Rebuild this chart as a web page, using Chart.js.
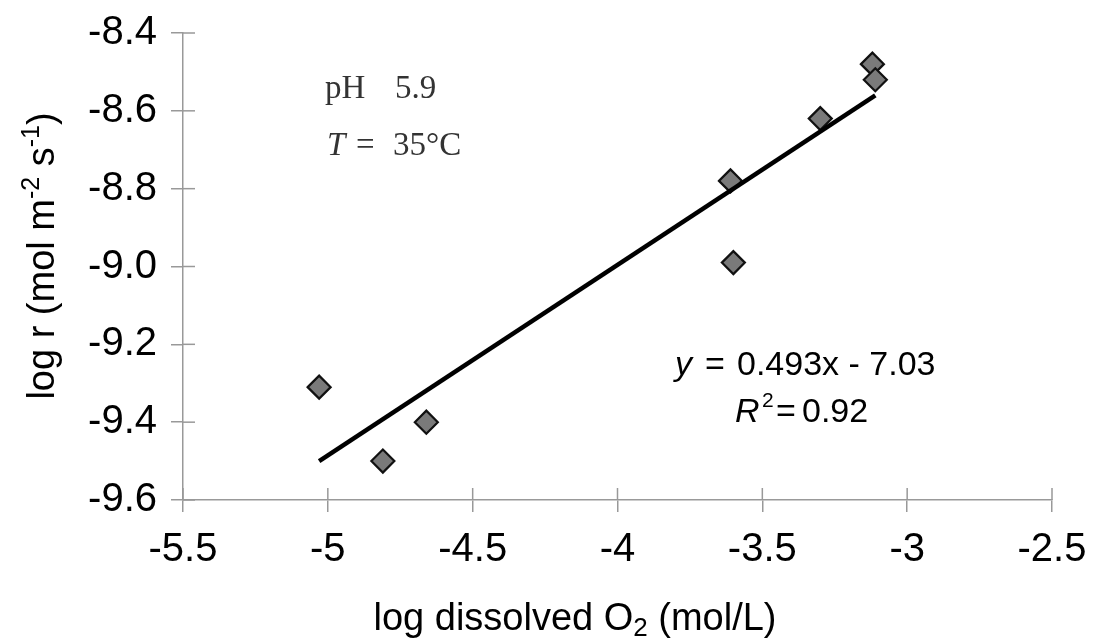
<!DOCTYPE html>
<html>
<head>
<meta charset="utf-8">
<script src="https://cdn.jsdelivr.net/npm/chart.js@4"></script>
<style>
  body { margin: 0; background: #fff; }
</style>
</head>
<body>
<canvas id="grafico" width="1094" height="642"></canvas>
<script>
// dados
const logO2 = [-5.03, -4.81, -4.66, -3.61, -3.60, -3.30, -3.12, -3.11];
const logR = [-9.31, -9.50, -9.40, -8.78, -8.99, -8.62, -8.48, -8.52];

// reta de ajuste (extremos)
const ajusteX = [-5.03, -3.11];
const ajusteY = [-9.50, -8.56];

const xTicks = [-5.5, -5, -4.5, -4, -3.5, -3, -2.5];
const yTicks = [-9.6, -9.4, -9.2, -9.0, -8.8, -8.6, -8.4];

const pontos = logO2.map((x, i) => ({ x: x, y: logR[i] }));
const reta = ajusteX.map((x, i) => ({ x: x, y: ajusteY[i] }));

const sans = '"Liberation Sans", Arial, sans-serif';
const serif = '"Liberation Serif", "Times New Roman", serif';

// marcas de escala que cruzam o eixo + textos
const extras = {
    id: 'extras',
    afterDraw(chart) {
        const ctx = chart.ctx;
        const xs = chart.scales.x;
        const ys = chart.scales.y;
        const area = chart.chartArea;

        ctx.save();
        ctx.strokeStyle = '#999';
        ctx.lineWidth = 1.5;
        xTicks.forEach(v => {
            const px = xs.getPixelForValue(v);
            ctx.beginPath();
            ctx.moveTo(px, area.bottom);
            ctx.lineTo(px, area.bottom - 12);
            ctx.stroke();
        });
        yTicks.forEach(v => {
            const py = ys.getPixelForValue(v);
            ctx.beginPath();
            ctx.moveTo(area.left, py);
            ctx.lineTo(area.left + 12, py);
            ctx.stroke();
        });

        ctx.fillStyle = '#000';
        ctx.textBaseline = 'alphabetic';
        ctx.textAlign = 'left';

        // titulo eixo x
        ctx.font = '38px ' + sans;
        let p1 = 'log dissolved O';
        let w1 = ctx.measureText(p1).width;
        ctx.font = '26px ' + sans;
        let w2 = ctx.measureText('2').width;
        ctx.font = '38px ' + sans;
        let p3 = ' (mol/L)';
        let w3 = ctx.measureText(p3).width;
        let x0 = 575 - (w1 + w2 + w3) / 2;
        ctx.fillText(p1, x0, 630);
        ctx.font = '26px ' + sans;
        ctx.fillText('2', x0 + w1, 636);
        ctx.font = '38px ' + sans;
        ctx.fillText(p3, x0 + w1 + w2, 630);

        // titulo eixo y (girado)
        ctx.save();
        ctx.translate(54, 256);
        ctx.rotate(-Math.PI / 2);
        const partes = [
            ['log r (mol m', 38, 0],
            ['-2', 25, -15],
            [' s', 38, 0],
            ['-1', 25, -15],
            [')', 38, 0]
        ];
        let total = 0;
        partes.forEach(p => {
            ctx.font = p[1] + 'px ' + sans;
            total += ctx.measureText(p[0]).width;
        });
        let cx = -total / 2;
        partes.forEach(p => {
            ctx.font = p[1] + 'px ' + sans;
            ctx.fillText(p[0], cx, p[2]);
            cx += ctx.measureText(p[0]).width;
        });
        ctx.restore();

        // anotacoes
        ctx.fillStyle = '#333';
        ctx.font = '33px ' + serif;
        ctx.fillText('pH', 325, 98);
        ctx.fillText('5.9', 395, 98);
        ctx.font = 'italic 33px ' + serif;
        ctx.fillText('T', 327, 155);
        ctx.font = '33px ' + serif;
        ctx.fillText('=', 356, 155);
        ctx.fillText('35\u00B0C', 393, 155);

        // equacao
        ctx.fillStyle = '#000';
        ctx.font = 'italic 34px ' + sans;
        ctx.fillText('y', 675, 375);
        ctx.font = '34px ' + sans;
        ctx.fillText('=', 705, 375);
        ctx.fillText('0.493x - 7.03', 737, 375);
        ctx.font = 'italic 34px ' + sans;
        ctx.fillText('R', 735, 422);
        ctx.font = '21px ' + sans;
        ctx.fillText('2', 762, 407);
        ctx.font = '34px ' + sans;
        ctx.fillText('=', 776, 422);
        ctx.fillText('0.92', 802, 422);
        ctx.restore();
    }
};

new Chart(document.getElementById('grafico'), {
    type: 'scatter',
    data: {
        datasets: [
            {
                label: 'ajuste',
                data: reta,
                showLine: true,
                borderColor: '#000',
                borderWidth: 4.5,
                pointRadius: 0,
                order: 0
            },
            {
                label: 'dados',
                data: pontos,
                pointStyle: 'rectRot',
                pointRadius: 11.5,
                backgroundColor: '#7a7a7a',
                borderColor: '#111',
                borderWidth: 2.2,
                order: 1
            }
        ]
    },
    options: {
        responsive: false,
        animation: false,
        layout: {
            padding: { left: 0, right: 42, top: 33, bottom: 0 }
        },
        plugins: {
            legend: { display: false },
            tooltip: { enabled: false }
        },
        scales: {
            x: {
                type: 'linear',
                min: -5.5,
                max: -2.5,
                afterFit: s => {
                    s.height = 142;
                    s.paddingLeft = 0;
                    s.paddingRight = 0;
                },
                afterBuildTicks: s => { s.ticks = xTicks.map(v => ({ value: v })); },
                ticks: {
                    color: '#000',
                    padding: 14,
                    font: { family: sans, size: 40 },
                    callback: v => String(v)
                },
                grid: {
                    drawOnChartArea: false,
                    drawTicks: true,
                    tickLength: 12,
                    color: '#999',
                    lineWidth: 1.5
                },
                border: { color: '#999', width: 1.5 }
            },
            y: {
                type: 'linear',
                min: -9.6,
                max: -8.4,
                afterFit: s => {
                    s.width = 183;
                    s.paddingTop = 0;
                    s.paddingBottom = 0;
                },
                afterBuildTicks: s => { s.ticks = yTicks.map(v => ({ value: v })); },
                ticks: {
                    color: '#000',
                    padding: 14,
                    font: { family: sans, size: 40 },
                    callback: v => Number(v).toFixed(1)
                },
                grid: {
                    drawOnChartArea: false,
                    drawTicks: true,
                    tickLength: 12,
                    color: '#999',
                    lineWidth: 1.5
                },
                border: { color: '#999', width: 1.5 }
            }
        }
    },
    plugins: [extras]
});
</script>
</body>
</html>
